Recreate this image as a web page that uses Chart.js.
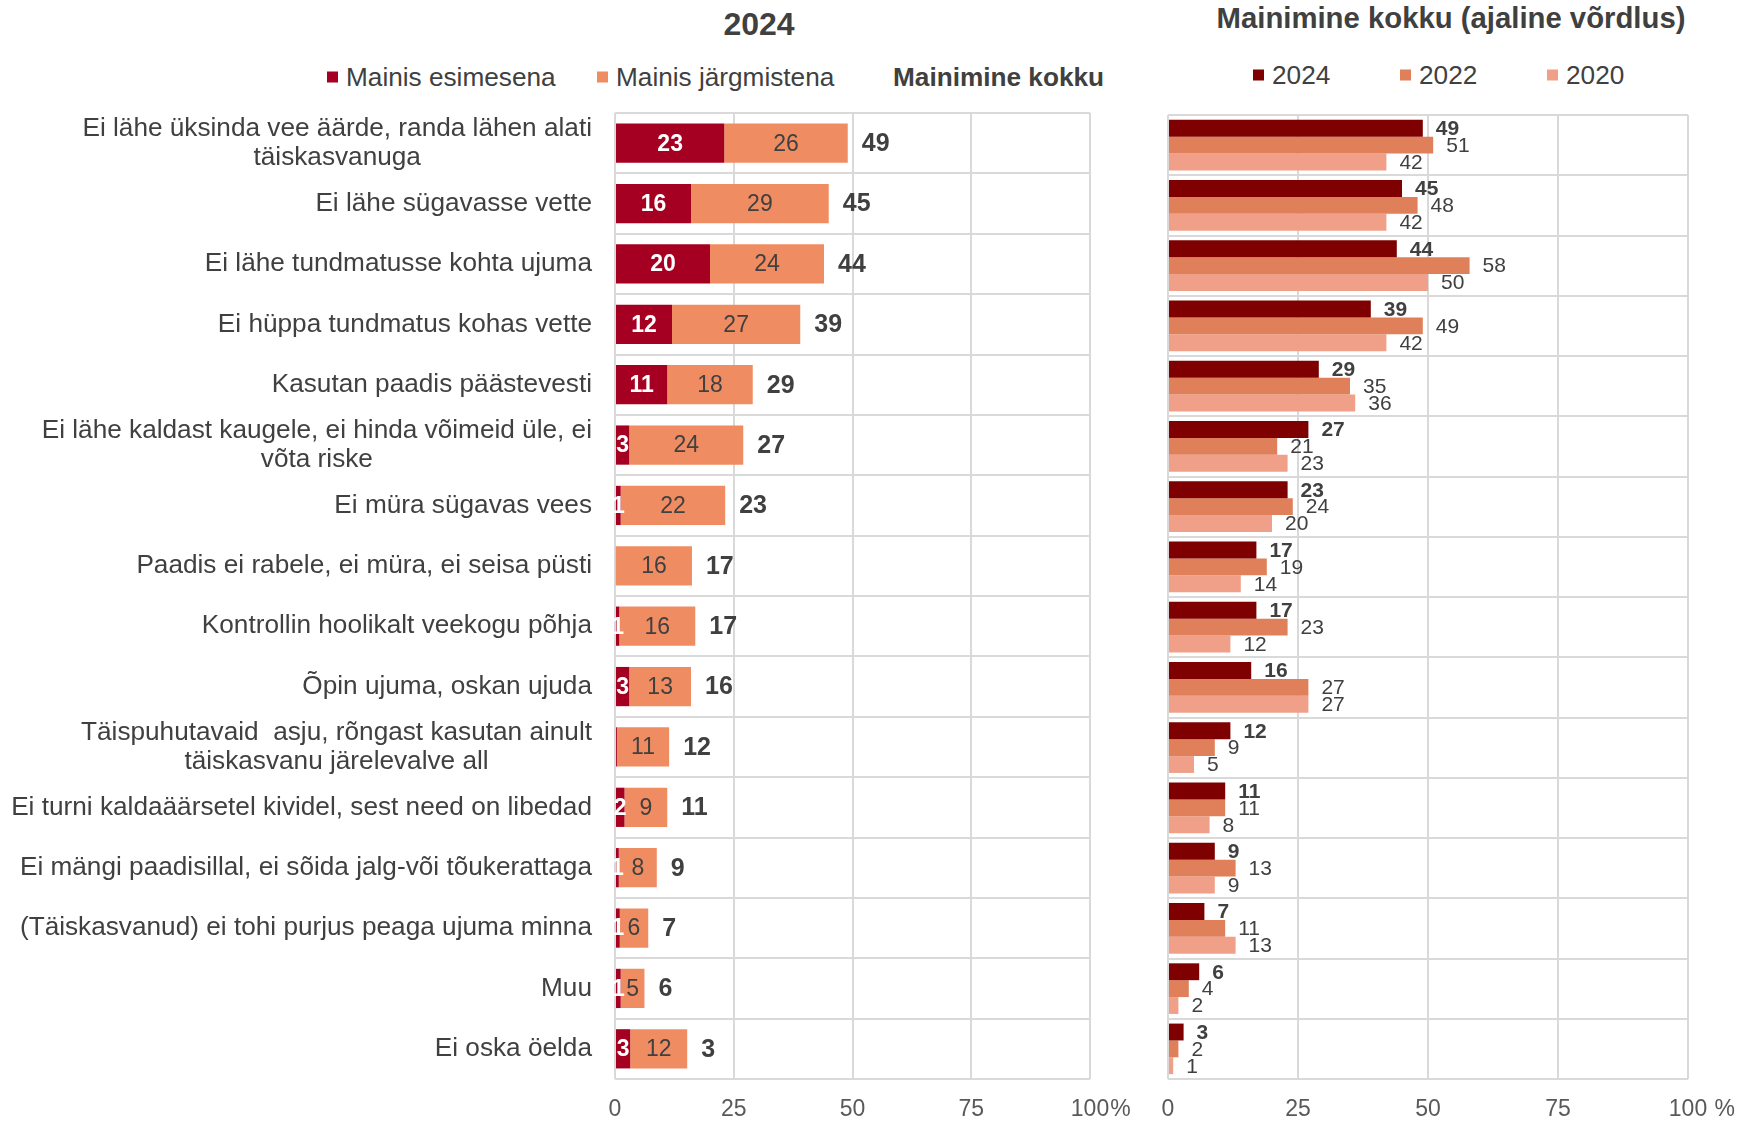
<!DOCTYPE html>
<html>
<head>
<meta charset="utf-8">
<script src="https://cdn.jsdelivr.net/npm/chart.js@4.4.1/dist/chart.umd.min.js"></script>
<style>
  body { margin: 0; background: #fff; overflow: hidden; }
  #wrap { position: relative; width: 1744px; height: 1124px; font-family: 'Liberation Sans', Arial, sans-serif; color: #404040; }
  .title { position: absolute; font-weight: bold; transform: translate(-50%, -50%); white-space: nowrap; }
  .leg { position: absolute; font-size: 26.2px; display: flex; align-items: center; transform: translateY(-50%); white-space: nowrap; }
  .leg i { display: inline-block; width: 11px; height: 11px; margin-right: 8px; }
  canvas { position: absolute; top: 100px; }
</style>
</head>
<body>
<div id="wrap">
  <div class="title" style="left:759px;top:24px;font-size:32px">2024</div>
  <div class="title" style="left:1451px;top:18px;font-size:29.3px">Mainimine kokku (ajaline võrdlus)</div>
  <canvas id="left" width="1130" height="1024" style="left:0"></canvas>
  <canvas id="right" width="624" height="1024" style="left:1120px"></canvas>
</div>
<script>
const categories = [
  ['Ei lähe üksinda vee äärde, randa lähen alati', 'täiskasvanuga'],
  'Ei lähe sügavasse vette',
  'Ei lähe tundmatusse kohta ujuma',
  'Ei hüppa tundmatus kohas vette',
  'Kasutan paadis päästevesti',
  ['Ei lähe kaldast kaugele, ei hinda võimeid üle, ei', 'võta riske'],
  'Ei müra sügavas vees',
  'Paadis ei rabele, ei müra, ei seisa püsti',
  'Kontrollin hoolikalt veekogu põhja',
  'Õpin ujuma, oskan ujuda',
  ['Täispuhutavaid  asju, rõngast kasutan ainult', 'täiskasvanu järelevalve all'],
  'Ei turni kaldaäärsetel kividel, sest need on libedad',
  'Ei mängi paadisillal, ei sõida jalg-või tõukerattaga',
  '(Täiskasvanud) ei tohi purjus peaga ujuma minna',
  'Muu',
  'Ei oska öelda'
];

const leftSeries = ['Mainis esimesena', 'Mainis järgmistena'];
const totalName = 'Mainimine kokku';
const firstMention = [23, 16, 20, 12, 11, 3, 1.2, 0.2, 0.9, 3, 0.4, 2, 0.8, 1, 1.2, 3.2];
const laterMention = [26, 29, 24, 27, 18, 24, 22, 16, 16, 13, 11, 9, 8, 6, 5, 12];
const totalMention = [49, 45, 44, 39, 29, 27, 23, 17, 17, 16, 12, 11, 9, 7, 6, 3];

const years = ['2024', '2022', '2020'];
const mention2024 = [49, 45, 44, 39, 29, 27, 23, 17, 17, 16, 12, 11, 9, 7, 6, 3];
const mention2022 = [51, 48, 58, 49, 35, 21, 24, 19, 23, 27, 9, 11, 13, 11, 4, 2];
const mention2020 = [42, 42, 50, 42, 36, 23, 20, 14, 12, 27, 5, 8, 9, 13, 2, 1];

const xTicks = [0, 25, 50, 75, 100];

const FONT = "'Liberation Sans', Arial, sans-serif";
const TXT = '#404040';
const GRID = '#d9d9d9';
const leftColors = ['#A50021', '#F08C62'];
const yearColors = ['#7F0000', '#E0805A', '#F0A088'];

// legends (html text)
const wrap = document.getElementById('wrap');
function legendItem(text, color, left, top, bold) {
  const d = document.createElement('div');
  d.className = 'leg';
  d.style.left = left + 'px';
  d.style.top = top + 'px';
  if (bold) d.style.fontWeight = 'bold';
  d.innerHTML = (color ? `<i style="background:${color}"></i>` : '') + text;
  wrap.appendChild(d);
}
legendItem(leftSeries[0], leftColors[0], 327, 77);
legendItem(leftSeries[1], leftColors[1], 597, 77);
legendItem(totalName, null, 893, 77, true);
years.forEach((y, i) => legendItem(y, yearColors[i], [1253, 1400, 1547][i], 75));

function txt(ctx, s, x, y, font, color, align) {
  ctx.font = font;
  ctx.fillStyle = color;
  ctx.textAlign = align;
  ctx.textBaseline = 'middle';
  ctx.fillText(s, x, y);
}

const TICK_SIZE = 23, TICK_PAD = 17;

function percentSign(suffix) {
  return {
    id: 'percentSign',
    afterDraw(chart) {
      const { ctx } = chart;
      const x = chart.scales.x;
      ctx.save();
      ctx.font = `${TICK_SIZE}px ${FONT}`;
      const w = ctx.measureText('100').width;
      txt(ctx, suffix, x.getPixelForValue(100) + w / 2 + 1, x.top + TICK_PAD + TICK_SIZE * 0.6, `${TICK_SIZE}px ${FONT}`, '#595959', 'left');
      ctx.restore();
    }
  };
}

function xScale(height) {
  return {
    min: 0, max: 100, stacked: true,
    afterBuildTicks: s => { s.ticks = xTicks.map(v => ({ value: v })); },
    afterFit: s => { s.height = height; },
    grid: { color: GRID, lineWidth: 2, drawTicks: false },
    border: { display: false },
    ticks: { padding: TICK_PAD, color: '#595959', font: { size: TICK_SIZE, family: FONT } }
  };
}
function yScale(width) {
  return {
    stacked: true,
    afterFit: s => { s.width = width; },
    grid: { color: GRID, lineWidth: 2, drawTicks: false, offset: true },
    border: { display: false },
    ticks: { display: false }
  };
}

const leftLabels = {
  id: 'leftLabels',
  afterDatasetsDraw(chart) {
    const { ctx, chartArea } = chart;
    const { x, y } = chart.scales;
    ctx.save();
    [0, 1].forEach(d => {
      chart.getDatasetMeta(d).data.forEach((bar, i) => {
        const v = Math.round(chart.data.datasets[d].data[i]);
        if (v < 1) return;
        txt(ctx, String(v), (bar.x + bar.base) / 2, bar.y + 1,
          d ? `23px ${FONT}` : `bold 23px ${FONT}`, d ? TXT : '#ffffff', 'center');
      });
    });
    totalMention.forEach((t, i) => {
      const end = x.getPixelForValue(firstMention[i] + laterMention[i]);
      txt(ctx, String(t), end + 14, y.getPixelForValue(i) + 1, `bold 25px ${FONT}`, TXT, 'left');
    });
    const labFont = `26.2px ${FONT}`;
    categories.forEach((c, i) => {
      const lines = [].concat(c);
      ctx.font = labFont;
      const w = Math.max(...lines.map(l => ctx.measureText(l).width));
      const cx = chartArea.left - 23 - w / 2;
      const cy = y.getPixelForValue(i);
      lines.forEach((l, k) => txt(ctx, l, cx, cy + (k - (lines.length - 1) / 2) * 29, labFont, TXT, 'center'));
    });
    ctx.restore();
  }
};

new Chart(document.getElementById('left'), {
  type: 'bar',
  data: {
    labels: categories,
    datasets: [
      { label: leftSeries[0], data: firstMention, backgroundColor: leftColors[0] },
      { label: leftSeries[1], data: laterMention, backgroundColor: leftColors[1] }
    ]
  },
  options: {
    indexAxis: 'y',
    responsive: false,
    animation: false,
    devicePixelRatio: 1,
    categoryPercentage: 0.65,
    barPercentage: 1,
    layout: { padding: { top: 13, right: 40, left: 0, bottom: 0 } },
    plugins: { legend: { display: false }, tooltip: { enabled: false } },
    scales: { x: xScale(45), y: yScale(615) }
  },
  plugins: [leftLabels, percentSign('%')]
});

const rightLabels = {
  id: 'rightLabels',
  afterDatasetsDraw(chart) {
    const { ctx } = chart;
    ctx.save();
    chart.data.datasets.forEach((ds, d) => {
      chart.getDatasetMeta(d).data.forEach((bar, i) => {
        txt(ctx, String(ds.data[i]), bar.x + 13, bar.y + 1,
          d === 0 ? `bold 21px ${FONT}` : `21px ${FONT}`, TXT, 'left');
      });
    });
    ctx.restore();
  }
};

const rightY = yScale(48);
rightY.stacked = false;
const rightX = xScale(45);
rightX.stacked = false;

new Chart(document.getElementById('right'), {
  type: 'bar',
  data: {
    labels: categories,
    datasets: [
      { label: years[0], data: mention2024, backgroundColor: yearColors[0] },
      { label: years[1], data: mention2022, backgroundColor: yearColors[1] },
      { label: years[2], data: mention2020, backgroundColor: yearColors[2] }
    ]
  },
  options: {
    indexAxis: 'y',
    responsive: false,
    animation: false,
    devicePixelRatio: 1,
    categoryPercentage: 0.84,
    barPercentage: 1,
    layout: { padding: { top: 15, right: 56, left: 0, bottom: 0 } },
    plugins: { legend: { display: false }, tooltip: { enabled: false } },
    scales: { x: rightX, y: rightY }
  },
  plugins: [rightLabels, percentSign(' %')]
});
</script>
</body>
</html>
